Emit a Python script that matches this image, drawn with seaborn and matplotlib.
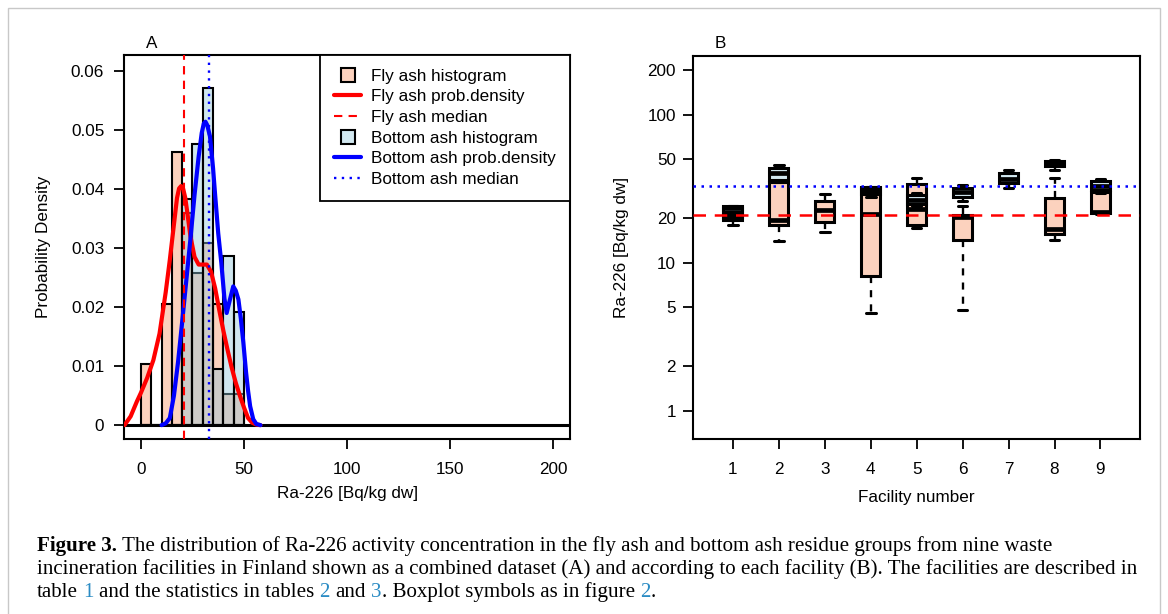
import numpy as np
import pandas as pd
import matplotlib
matplotlib.use('Agg')
import matplotlib.pyplot as plt
import seaborn as sns
from matplotlib.lines import Line2D
from matplotlib.patches import Rectangle

sns.set_theme(style='ticks')
plt.rcParams['font.family'] = ['Liberation Sans', 'DejaVu Sans']
plt.rcParams['axes.linewidth'] = 1.5
plt.rcParams['axes.edgecolor'] = 'black'
plt.rcParams['text.color'] = 'black'
plt.rcParams['axes.labelcolor'] = 'black'
plt.rcParams['xtick.color'] = 'black'
plt.rcParams['ytick.color'] = 'black'

# ---- panel A: combined dataset (density histograms, 5 Bq/kg bins) ----
bin_edges = [0, 5, 10, 15, 20, 25, 30, 35, 40, 45, 50]
fly_hist = [0.0103, 0.0, 0.0206, 0.0463, 0.0360, 0.0258, 0.0309, 0.0206, 0.0052, 0.0052]
bottom_hist = [0.0, 0.0, 0.0, 0.0, 0.0383, 0.0476, 0.0571, 0.0095, 0.0286, 0.0192]

# kernel density curves
fly_kde_x = [-8, -5, -2, 0, 3, 6, 9, 12, 14, 16, 17.5, 18.5, 19.5, 20.5, 21.5,
             22.5, 24, 26, 28, 30, 32, 34, 36, 38, 40, 42, 44, 46, 48, 50, 52,
             54, 56, 58]
fly_kde_y = [0.0, 0.0015, 0.004, 0.0055, 0.008, 0.011, 0.0155, 0.0225, 0.028, 0.034,
             0.0385, 0.0401, 0.0405, 0.0400, 0.0385, 0.036, 0.032, 0.0285, 0.0272,
             0.0272, 0.0272, 0.026, 0.0232, 0.0195, 0.016, 0.0128, 0.0098, 0.0072,
             0.005, 0.003, 0.0012, 0.0004, 0.0001, 0.0]
bottom_kde_x = [10, 12, 14, 16, 18, 20, 22, 24, 26, 28, 29.5, 30.5, 31.3, 32.2,
                33.5, 35, 36, 37.5, 39, 40.5, 41.6, 43, 44.8, 46, 47.3, 48.5, 49.7,
                51, 52, 53, 54.5, 56, 58]
bottom_kde_y = [0.0, 0.0003, 0.0012, 0.005, 0.0107, 0.0175, 0.0245, 0.0315, 0.039,
                0.0455, 0.0495, 0.0511, 0.0514, 0.0508, 0.0489, 0.0435, 0.039, 0.0325,
                0.0275, 0.0215, 0.019, 0.021, 0.0235, 0.0228, 0.0213, 0.018, 0.014,
                0.009, 0.0058, 0.0032, 0.001, 0.0002, 0.0]

fly_median = 21.0
bottom_median = 33.0

a_xticks = [0, 50, 100, 150, 200]
a_yticks = [0, 0.01, 0.02, 0.03, 0.04, 0.05, 0.06]
a_yticklabels = ['0', '0.01', '0.02', '0.03', '0.04', '0.05', '0.06']

# ---- panel B: per facility box statistics (min, q1, median, q3, max) ----
facilities = [1, 2, 3, 4, 5, 6, 7, 8, 9]
nan = np.nan
fly_lo = [17.9, 14.0, 16.1, 4.6, 17.1, 4.8, nan, 14.2, 21.3]
fly_q1 = [19.3, 18.0, 19.0, 8.2, 17.9, 14.2, nan, 15.6, 21.6]
fly_med = [21.5, 19.5, 22.6, 21.3, 23.0, 20.3, nan, 16.8, 21.9]
fly_q3 = [24.3, 35.0, 26.3, 32.5, 34.2, 21.0, nan, 27.3, 30.0]
fly_hi = [24.3, 35.0, 29.3, 32.5, 37.1, 24.0, nan, 37.1, 36.0]

bot_lo = [19.5, 35.5, nan, 28.0, 24.0, 26.3, 32.2, 42.4, 29.8]
bot_q1 = [20.5, 36.5, nan, 29.0, 25.0, 28.0, 34.8, 45.0, 31.0]
bot_med = [22.0, 40.5, nan, 30.5, 26.5, 30.0, 37.0, 47.0, 33.0]
bot_q3 = [23.5, 43.5, nan, 32.0, 28.5, 31.9, 40.6, 48.5, 35.5]
bot_hi = [24.3, 45.5, nan, 32.5, 29.5, 33.5, 42.1, 49.3, 36.9]

b_yticks = [1, 2, 5, 10, 20, 50, 100, 200]

fly_hist_color = '#F78E5C'
bottom_hist_color = '#8EC5D9'
fly_box_color = '#FCD2BE'
bottom_box_color = '#D2E8F0'

FS = 12.3
W, H = 1168, 614

fig = plt.figure(figsize=(W / 100, H / 100), dpi=100)
axA = fig.add_axes([124.3 / W, 1 - 439.3 / H, (570 - 124.3) / W, (439.3 - 55) / H])
axB = fig.add_axes([693.3 / W, 1 - 439 / H, (1140 - 693.3) / W, (439 - 56) / H])

# ---------------- panel A ----------------
bin_mid = [(a + b) / 2 for a, b in zip(bin_edges[:-1], bin_edges[1:])]
sns.histplot(x=bin_mid, weights=fly_hist, bins=bin_edges, stat='count',
             color=fly_hist_color, alpha=0.4, edgecolor='black', linewidth=1.5,
             ax=axA, zorder=2)
sns.histplot(x=bin_mid, weights=bottom_hist, bins=bin_edges, stat='count',
             color=bottom_hist_color, alpha=0.42, edgecolor='black', linewidth=1.5,
             ax=axA, zorder=2)
axA.axhline(0, color='black', lw=2.2, zorder=2.6)
sns.lineplot(x=fly_kde_x, y=fly_kde_y, color='red', lw=3, sort=False, ax=axA, zorder=3)
sns.lineplot(x=bottom_kde_x, y=bottom_kde_y, color='blue', lw=3, sort=False, ax=axA, zorder=3)
axA.axvline(fly_median, color='red', lw=1.5, ls=(0, (4, 3)), zorder=4)
axA.axvline(bottom_median, color='blue', lw=1.7, ls=(0, (1, 2.3)), zorder=4)

axA.set_xlim(-8.1, 208.3)
axA.set_ylim(-0.0024, 0.0627)
axA.set_xticks(a_xticks)
axA.set_xticklabels([str(t) for t in a_xticks])
axA.set_yticks(a_yticks)
axA.set_yticklabels(a_yticklabels)
axA.tick_params(axis='x', length=7.5, width=1.3, labelsize=FS, pad=9)
axA.tick_params(axis='y', length=7.5, width=1.3, labelsize=FS, pad=7)
axA.set_xlabel('Ra-226 [Bq/kg dw]', fontsize=FS, va='center')
axA.set_ylabel('Probability Density', fontsize=FS, va='center')
axA.xaxis.set_label_coords(0.5, -0.142)
axA.yaxis.set_label_coords(-0.182, 0.5)
for s in axA.spines.values():
    s.set_visible(True)
    s.set_linewidth(1.5)

handles = [
    Line2D([], [], ls='none', marker='s', ms=10, mfc=fly_box_color, mec='black', mew=1.5),
    Line2D([], [], color='red', lw=3),
    Line2D([], [], color='red', lw=1.5, ls=(0, (4, 3))),
    Line2D([], [], ls='none', marker='s', ms=10, mfc=bottom_box_color, mec='black', mew=1.5),
    Line2D([], [], color='blue', lw=3),
    Line2D([], [], color='blue', lw=1.7, ls=(0, (1, 2.3))),
]
labels = ['Fly ash histogram', 'Fly ash prob.density', 'Fly ash median',
          'Bottom ash histogram', 'Bottom ash prob.density', 'Bottom ash median']
leg = axA.legend(handles, labels, loc='upper right', bbox_to_anchor=(1, 1),
                 borderaxespad=0, fontsize=FS, frameon=True, fancybox=False,
                 framealpha=1, edgecolor='black', handlelength=1.6,
                 handletextpad=0.6, labelspacing=0.33, borderpad=0.8)
leg.get_frame().set_linewidth(1.3)

# ---------------- panel B ----------------
rows = []
for material, stats in [('Fly ash', (fly_lo, fly_q1, fly_med, fly_q3, fly_hi)),
                        ('Bottom ash', (bot_lo, bot_q1, bot_med, bot_q3, bot_hi))]:
    for i, fac in enumerate(facilities):
        vals = [s[i] for s in stats]
        if np.isnan(vals[0]):
            continue
        for v in vals:
            rows.append((fac, material, v))
df = pd.DataFrame(rows, columns=['facility', 'material', 'ra226'])

sns.boxplot(data=df, x='facility', y='ra226', hue='material',
            hue_order=['Fly ash', 'Bottom ash'],
            palette={'Fly ash': fly_box_color, 'Bottom ash': bottom_box_color},
            saturation=1, dodge=False, native_scale=True, log_scale=(False, True),
            whis=(0, 100), width=0.42, linecolor='black', linewidth=2.2,
            showfliers=False, legend=False, ax=axB,
            whiskerprops=dict(linestyle=(0, (3, 3)), linewidth=1.7),
            medianprops=dict(linewidth=3.4))

axB.axhline(fly_median, color='red', lw=1.8, ls=(0, (5, 3.5)), zorder=5)
axB.axhline(bottom_median, color='blue', lw=1.8, ls=(0, (1, 2.2)), zorder=5)

axB.set_xlim(0.14, 9.86)
axB.set_ylim(0.646, 249)
axB.set_xticks(facilities)
axB.set_xticklabels([str(f) for f in facilities])
axB.set_yticks(b_yticks)
axB.set_yticklabels([str(t) for t in b_yticks])
axB.yaxis.set_minor_locator(matplotlib.ticker.NullLocator())
axB.tick_params(axis='x', length=7.5, width=1.3, labelsize=FS, pad=9)
axB.tick_params(axis='y', length=7.5, width=1.3, labelsize=FS, pad=5)
axB.set_xlabel('Facility number', fontsize=FS, va='center')
axB.set_ylabel('Ra-226 [Bq/kg dw]', fontsize=FS, va='center')
axB.xaxis.set_label_coords(0.5, -0.154)
axB.yaxis.set_label_coords(-0.16, 0.5)
for s in axB.spines.values():
    s.set_visible(True)
    s.set_linewidth(1.5)

fig.text(152 / W, 1 - 43 / H, 'A', fontsize=FS, ha='center', va='center')
fig.text(720 / W, 1 - 43 / H, 'B', fontsize=FS, ha='center', va='center')

# ---------------- caption ----------------
CAP_FS = 15.1
link = '#2B8CC4'
space = 0.25 * CAP_FS
cap_lines = [
    (551, [('Figure 3.', 'black', 'bold', 0),
           ('The distribution of Ra-226 activity concentration in the fly ash and bottom '
            'ash residue groups from nine waste', 'black', 'normal', space)]),
    (574, [('incineration facilities in Finland shown as a combined dataset (A) and '
            'according to each facility (B). The facilities are described in',
            'black', 'normal', 0)]),
    (597, [('table', 'black', 'normal', 0), ('1', link, 'normal', space),
           ('and the statistics in tables', 'black', 'normal', space),
           ('2', link, 'normal', space), ('and', 'black', 'normal', space),
           ('3', link, 'normal', space),
           ('. Boxplot symbols as in figure', 'black', 'normal', 0.3),
           ('2', link, 'normal', space), ('.', 'black', 'normal', 0.3)]),
]
for ybase, parts in cap_lines:
    prev = None
    for text, color, weight, gap in parts:
        kw = dict(fontsize=CAP_FS, color=color, fontweight=weight,
                  family=['Liberation Serif', 'DejaVu Serif'])
        if prev is None:
            prev = fig.text(37 / W, 1 - ybase / H, text, ha='left', va='baseline', **kw)
        else:
            prev = axB.annotate(text, xy=(1, 0), xycoords=prev, xytext=(gap, 0),
                                textcoords='offset points', ha='left', va='bottom',
                                annotation_clip=False, **kw)

fig.add_artist(Rectangle((8 / W, -0.02), (1160 - 8) / W, 1.02 - 8 / H,
                         transform=fig.transFigure, fill=False,
                         edgecolor='#c8c8c8', lw=1.0))

fig.savefig('out.png', dpi=100)
